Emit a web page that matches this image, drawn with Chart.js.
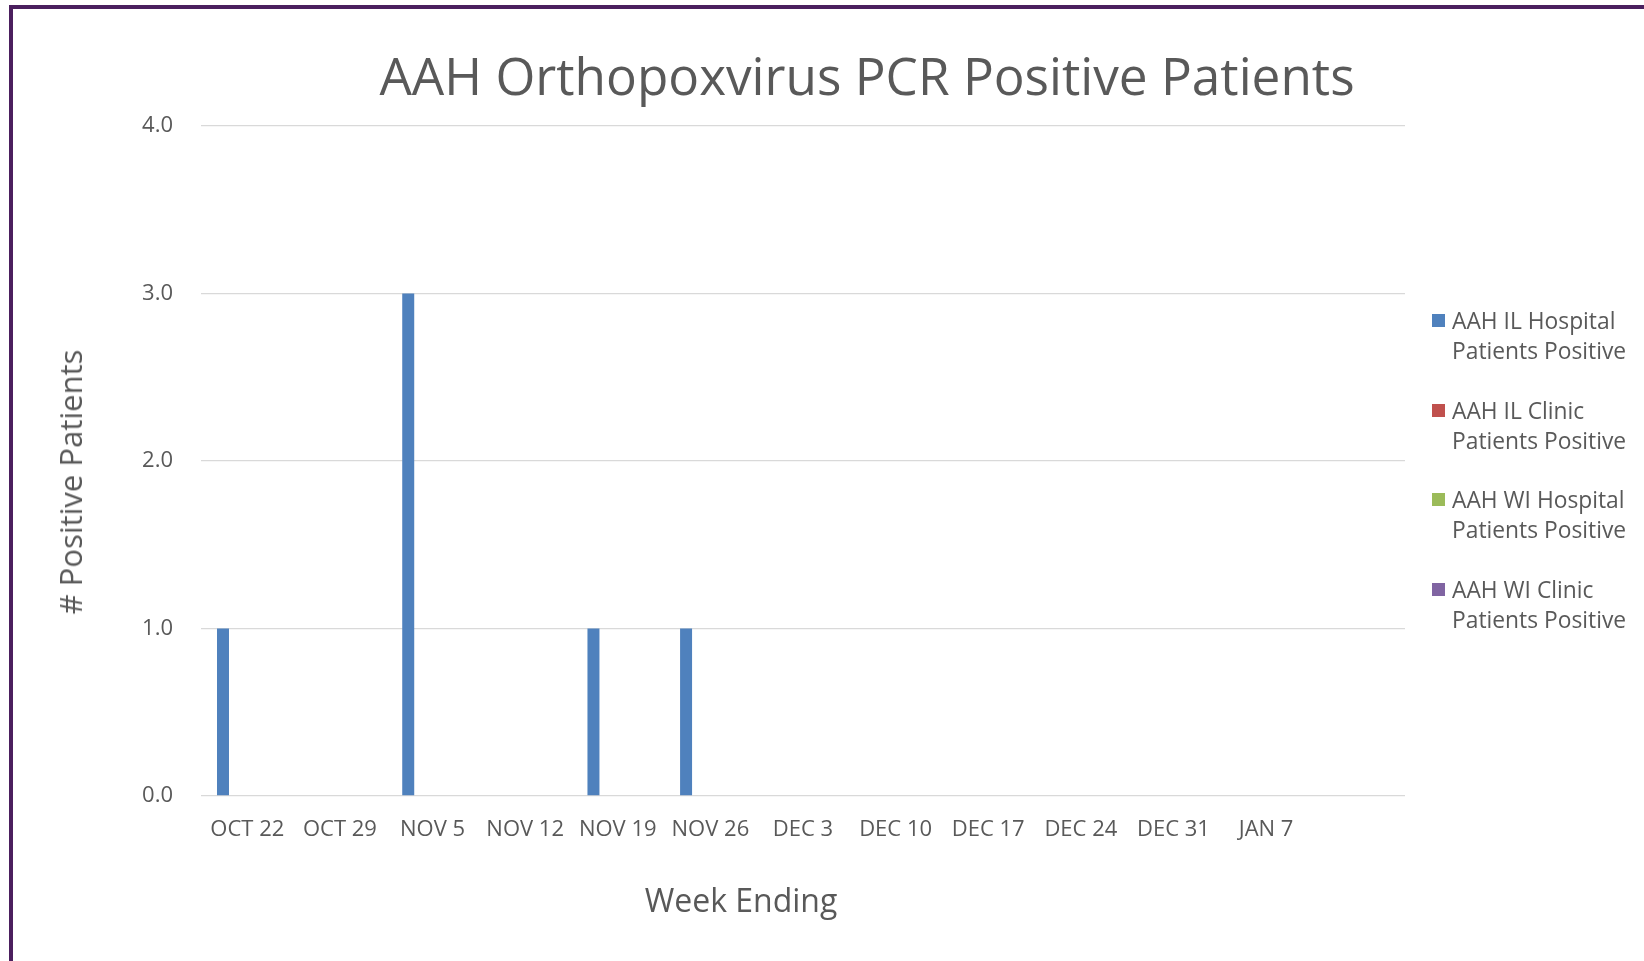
<!DOCTYPE html>
<html>
<head>
<meta charset="utf-8">
<title>AAH Orthopoxvirus PCR Positive Patients</title>
<script src="https://cdn.jsdelivr.net/npm/chart.js@4.4.1/dist/chart.umd.min.js"></script>
<style>
  html, body { margin: 0; padding: 0; background: #fff; overflow: hidden; }
  body { width: 1644px; height: 961px; position: relative; font-family: "Open Sans", sans-serif; color: #595959; }
  .frame { position: absolute; left: 9px; top: 5px; right: 0; bottom: 0; border-top: 4px solid #4b1f5e; border-left: 4px solid #4b1f5e; }
  .wrap { position: absolute; left: 0; top: 0; width: 1644px; height: 961px; }
  .title { position: absolute; left: 867px; top: 40px; transform: translateX(-50%); font-size: 51.3px; white-space: nowrap; line-height: normal; }
  .xTitle { position: absolute; left: 741px; top: 878px; transform: translateX(-50%); font-size: 32px; white-space: nowrap; line-height: normal; }
  .yTitle { position: absolute; left: 70px; top: 482px; transform: translate(-50%, -50%) rotate(-90deg); font-size: 31px; white-space: nowrap; line-height: normal; }
  .legend { position: absolute; left: 1432px; top: 306px; }
  .legend .item { position: relative; height: 89.5px; }
  .legend .box { position: absolute; left: 0; top: 8px; width: 13px; height: 13px; }
  .legend .text { position: absolute; left: 20px; top: 0; font-size: 22.8px; line-height: 30px; white-space: nowrap; }
</style>
</head>
<body>
<div class="frame"></div>
<div class="wrap"><canvas id="chart"></canvas></div>
<div class="title" id="title"></div>
<div class="yTitle" id="yTitle"></div>
<div class="xTitle" id="xTitle"></div>
<div class="legend" id="legend"></div>
<script>
const chartTitle = "AAH Orthopoxvirus PCR Positive Patients";
const xAxisTitle = "Week Ending";
const yAxisTitle = "# Positive Patients";

const weeks = ["OCT 22", "OCT 29", "NOV 5", "NOV 12", "NOV 19", "NOV 26", "DEC 3", "DEC 10", "DEC 17", "DEC 24", "DEC 31", "JAN 7", ""];
const ilHospital = [1, 0, 3, 0, 1, 1, 0, 0, 0, 0, 0, 0, 0];
const ilClinic = [0, 0, 0, 0, 0, 0, 0, 0, 0, 0, 0, 0, 0];
const wiHospital = [0, 0, 0, 0, 0, 0, 0, 0, 0, 0, 0, 0, 0];
const wiClinic = [0, 0, 0, 0, 0, 0, 0, 0, 0, 0, 0, 0, 0];

const seriesNames = [
  ["AAH IL Hospital", "Patients Positive"],
  ["AAH IL Clinic", "Patients Positive"],
  ["AAH WI Hospital", "Patients Positive"],
  ["AAH WI Clinic", "Patients Positive"]
];
const seriesData = [ilHospital, ilClinic, wiHospital, wiClinic];
const seriesColors = ["#4f81bd", "#c0504d", "#9bbb59", "#8064a2"];

const yMin = 0;
const yMax = 4;
const yStep = 1;

const $ = (selector) => document.querySelector(selector);

$("#title").textContent = chartTitle;
$("#xTitle").textContent = xAxisTitle;
$("#yTitle").textContent = yAxisTitle;
$("#legend").innerHTML = seriesNames
  .map((lines, i) => `
    <div class="item">
      <span class="box" style="background:${seriesColors[i]}"></span>
      <span class="text">${lines.join("<br>")}</span>
    </div>
  `)
  .join("");

const tickFont = { family: "'Open Sans', sans-serif", size: 22 };

new Chart($("#chart"), {
  type: "bar",
  data: {
    labels: weeks,
    datasets: seriesData.map((data, i) => ({
      label: seriesNames[i].join(" "),
      data,
      backgroundColor: seriesColors[i],
      borderWidth: 0,
      categoryPercentage: 0.7,
      barPercentage: 0.74
    }))
  },
  options: {
    responsive: true,
    maintainAspectRatio: false,
    animation: false,
    layout: { padding: { left: 101, right: 239, top: 126, bottom: 104 } },
    plugins: { legend: { display: false }, title: { display: false }, tooltip: { enabled: false } },
    scales: {
      x: {
        grid: { display: false },
        border: { display: false },
        ticks: { color: "#595959", font: tickFont, padding: 13, maxRotation: 0, autoSkip: false },
        afterFit: (scale) => { scale.height = 61; }
      },
      y: {
        min: yMin,
        max: yMax,
        grid: { color: "#d9d9d9", lineWidth: 1.3, drawTicks: false },
        border: { display: false },
        ticks: { stepSize: yStep, color: "#595959", font: tickFont, padding: 28, callback: (value) => value.toFixed(1) },
        afterFit: (scale) => { scale.width = 100; }
      }
    }
  }
});
</script>
</body>
</html>
